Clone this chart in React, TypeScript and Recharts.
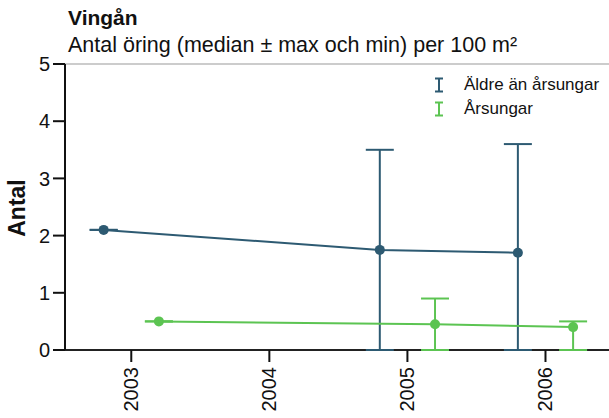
import React from "react";
import {
  ComposedChart,
  Line,
  XAxis,
  YAxis,
  ErrorBar,
  ReferenceLine,
} from "recharts";

const aldreYears = [2003, 2005, 2006];
const aldreMedian = [2.1, 1.75, 1.7];
const aldreMin = [2.1, 0, 0];
const aldreMax = [2.1, 3.5, 3.6];

const arsYears = [2003, 2005, 2006];
const arsMedian = [0.5, 0.45, 0.4];
const arsMin = [0.5, 0, 0];
const arsMax = [0.5, 0.9, 0.5];

const xTicks = [2003, 2004, 2005, 2006];
const yTicks = [0, 1, 2, 3, 4, 5];

const DARK = "#2d5a72";
const GREEN = "#5cc452";
const FONT = '"Liberation Sans", Arial, sans-serif';
const DODGE = 0.2;

const buildRows = (years: number[], med: number[], lo: number[], hi: number[], shift: number) =>
  years.map((y, i) => ({
    x: y + shift,
    y: med[i],
    err: [med[i] - lo[i], hi[i] - med[i]],
  }));

const aldreRows = buildRows(aldreYears, aldreMedian, aldreMin, aldreMax, -DODGE);
const arsRows = buildRows(arsYears, arsMedian, arsMin, arsMax, DODGE);

const legendItems = [
  { label: "Äldre än årsungar", color: DARK },
  { label: "Årsungar", color: GREEN },
];

function XTick(props: any) {
  const { x, y, payload } = props;
  return (
    <text
      x={0}
      y={0}
      transform={`translate(${x + 7},${y + 3}) rotate(-90)`}
      textAnchor="end"
      fontSize={20}
      fontFamily={FONT}
      fill="#111"
    >
      {payload.value}
    </text>
  );
}

function LegendBox() {
  return (
    <div
      style={{
        position: "absolute",
        left: 430,
        top: 73,
        fontFamily: FONT,
        fontSize: 17,
        color: "#111",
      }}
    >
      {legendItems.map((it) => (
        <div key={it.label} style={{ display: "flex", alignItems: "center", height: 24 }}>
          <svg width={34} height={16}>
            <path
              d="M5 1.5 H13 M9 1.5 V14.5 M5 14.5 H13"
              stroke={it.color}
              strokeWidth={2}
              fill="none"
            />
          </svg>
          <span>{it.label}</span>
        </div>
      ))}
    </div>
  );
}

export default function App() {
  return (
    <div style={{ position: "absolute", left: 0, top: 0, width: 609, height: 418, background: "#fff" }}>
      <div
        style={{
          position: "absolute",
          left: 68,
          top: 7,
          fontFamily: FONT,
          fontSize: 21,
          fontWeight: "bold",
          lineHeight: "21px",
          color: "#111",
        }}
      >
        Vingån
      </div>
      <div
        style={{
          position: "absolute",
          left: 68,
          top: 35,
          fontFamily: FONT,
          fontSize: 21.5,
          lineHeight: "21px",
          color: "#111",
          whiteSpace: "nowrap",
        }}
      >
        Antal öring (median ± max och min) per 100 m²
      </div>
      <ComposedChart
        width={609}
        height={418}
        margin={{ top: 64, right: 0, bottom: 0, left: 0 }}
        style={{ position: "absolute", left: 0, top: 0 }}
      >
        <XAxis
          dataKey="x"
          type="number"
          domain={[2002.52, 2006.46]}
          ticks={xTicks}
          allowDataOverflow
          height={68}
          tickSize={12}
          tick={<XTick />}
          axisLine={{ stroke: "#222", strokeWidth: 2 }}
          tickLine={{ stroke: "#111", strokeWidth: 2 }}
        />
        <YAxis
          type="number"
          domain={[0, 5]}
          ticks={yTicks}
          width={65}
          tickSize={12}
          tickMargin={3}
          tick={{ fontSize: 20, fontFamily: FONT, fill: "#111" }}
          axisLine={{ stroke: "#111", strokeWidth: 2 }}
          tickLine={{ stroke: "#111", strokeWidth: 2 }}
          label={{
            content: (p: any) => {
              const vb = p.viewBox;
              const cy = vb.y + vb.height / 2;
              return (
                <text
                  x={0}
                  y={0}
                  transform={`translate(25,${cy + 1}) rotate(-90)`}
                  textAnchor="middle"
                  fontSize={23}
                  fontWeight="bold"
                  fontFamily={FONT}
                  fill="#111"
                >
                  Antal
                </text>
              );
            },
          }}
        />
        <ReferenceLine y={5} stroke="#999" strokeWidth={1} />
        <Line
          data={aldreRows}
          dataKey="y"
          name="Äldre än årsungar"
          stroke={DARK}
          strokeWidth={2}
          dot={{ r: 5, fill: DARK, stroke: DARK, strokeWidth: 0 }}
          activeDot={false}
          isAnimationActive={false}
          zIndex={700}
        >
          <ErrorBar dataKey="err" direction="y" width={14} stroke={DARK} strokeWidth={2} isAnimationActive={false} zIndex={700} />
        </Line>
        <Line
          data={arsRows}
          dataKey="y"
          name="Årsungar"
          stroke={GREEN}
          strokeWidth={2}
          dot={{ r: 5, fill: GREEN, stroke: GREEN, strokeWidth: 0 }}
          activeDot={false}
          isAnimationActive={false}
          zIndex={700}
        >
          <ErrorBar dataKey="err" direction="y" width={14} stroke={GREEN} strokeWidth={2} isAnimationActive={false} zIndex={700} />
        </Line>
      </ComposedChart>
      <LegendBox />
    </div>
  );
}
